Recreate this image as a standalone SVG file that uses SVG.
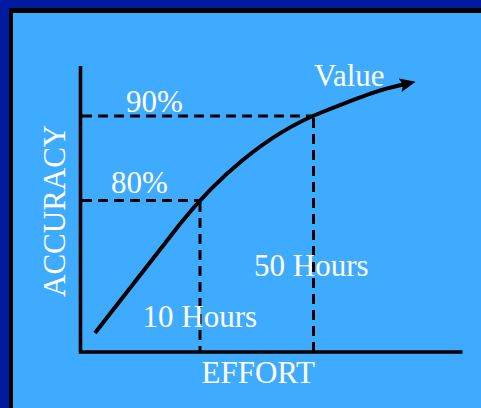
<svg xmlns="http://www.w3.org/2000/svg" width="481" height="408" viewBox="0 0 481 408">
  <style>
    .lbl { font-family: "Liberation Serif", "Times New Roman", serif; font-size: 31px; fill: #ffffff; }
    .axis { stroke: #000; stroke-width: 3.6; fill: none; }
    .dash { stroke: #000; stroke-width: 3; fill: none; stroke-dasharray: 10 6; }
    .curve { stroke: #000; stroke-width: 4; fill: none; }
  </style>
  <defs>
    <marker id="arrow" markerUnits="userSpaceOnUse" markerWidth="16" markerHeight="14" refX="3" refY="7" orient="auto" viewBox="0 0 16 14">
      <path d="M0,0 L16,7 L0,14 L3,7 z" fill="#000"/>
    </marker>
  </defs>
  <rect x="0" y="0" width="481" height="408" fill="#001AA0"/>
  <rect x="9" y="8" width="472" height="400" fill="#000"/>
  <rect x="13" y="13" width="468" height="395" fill="#3FABFF"/>

  <g id="connectors">
    <line class="dash" x1="82" y1="116" x2="313.5" y2="116"/>
    <line class="dash" x1="82" y1="200.5" x2="200" y2="200.5"/>
    <line class="dash" x1="200" y1="202" x2="200" y2="352"/>
    <line class="dash" x1="313.5" y1="118" x2="313.5" y2="352"/>
    <path class="curve" d="M95,333 L180,224 C215,180 265,135 320,113 C372,92 383,89 403,84.5" marker-end="url(#arrow)"/>
  </g>

  <g id="axes">
    <polyline class="axis" points="80.5,66 80.5,352 462.5,352"/>
  </g>

  <g id="label-value"><text class="lbl" x="314" y="86">Value</text></g>
  <g id="label-90"><text class="lbl" x="126" y="111.5">90%</text></g>
  <g id="label-80"><text class="lbl" x="111" y="192.5">80%</text></g>
  <g id="label-50h"><text class="lbl" x="254" y="276">50 Hours</text></g>
  <g id="label-10h"><text class="lbl" x="142.5" y="327">10 Hours</text></g>
  <g id="label-effort"><text class="lbl" x="201.5" y="383">EFFORT</text></g>
  <g id="label-accuracy"><text class="lbl" transform="translate(65,297) rotate(-90)" x="0" y="0">ACCURACY</text></g>
</svg>
